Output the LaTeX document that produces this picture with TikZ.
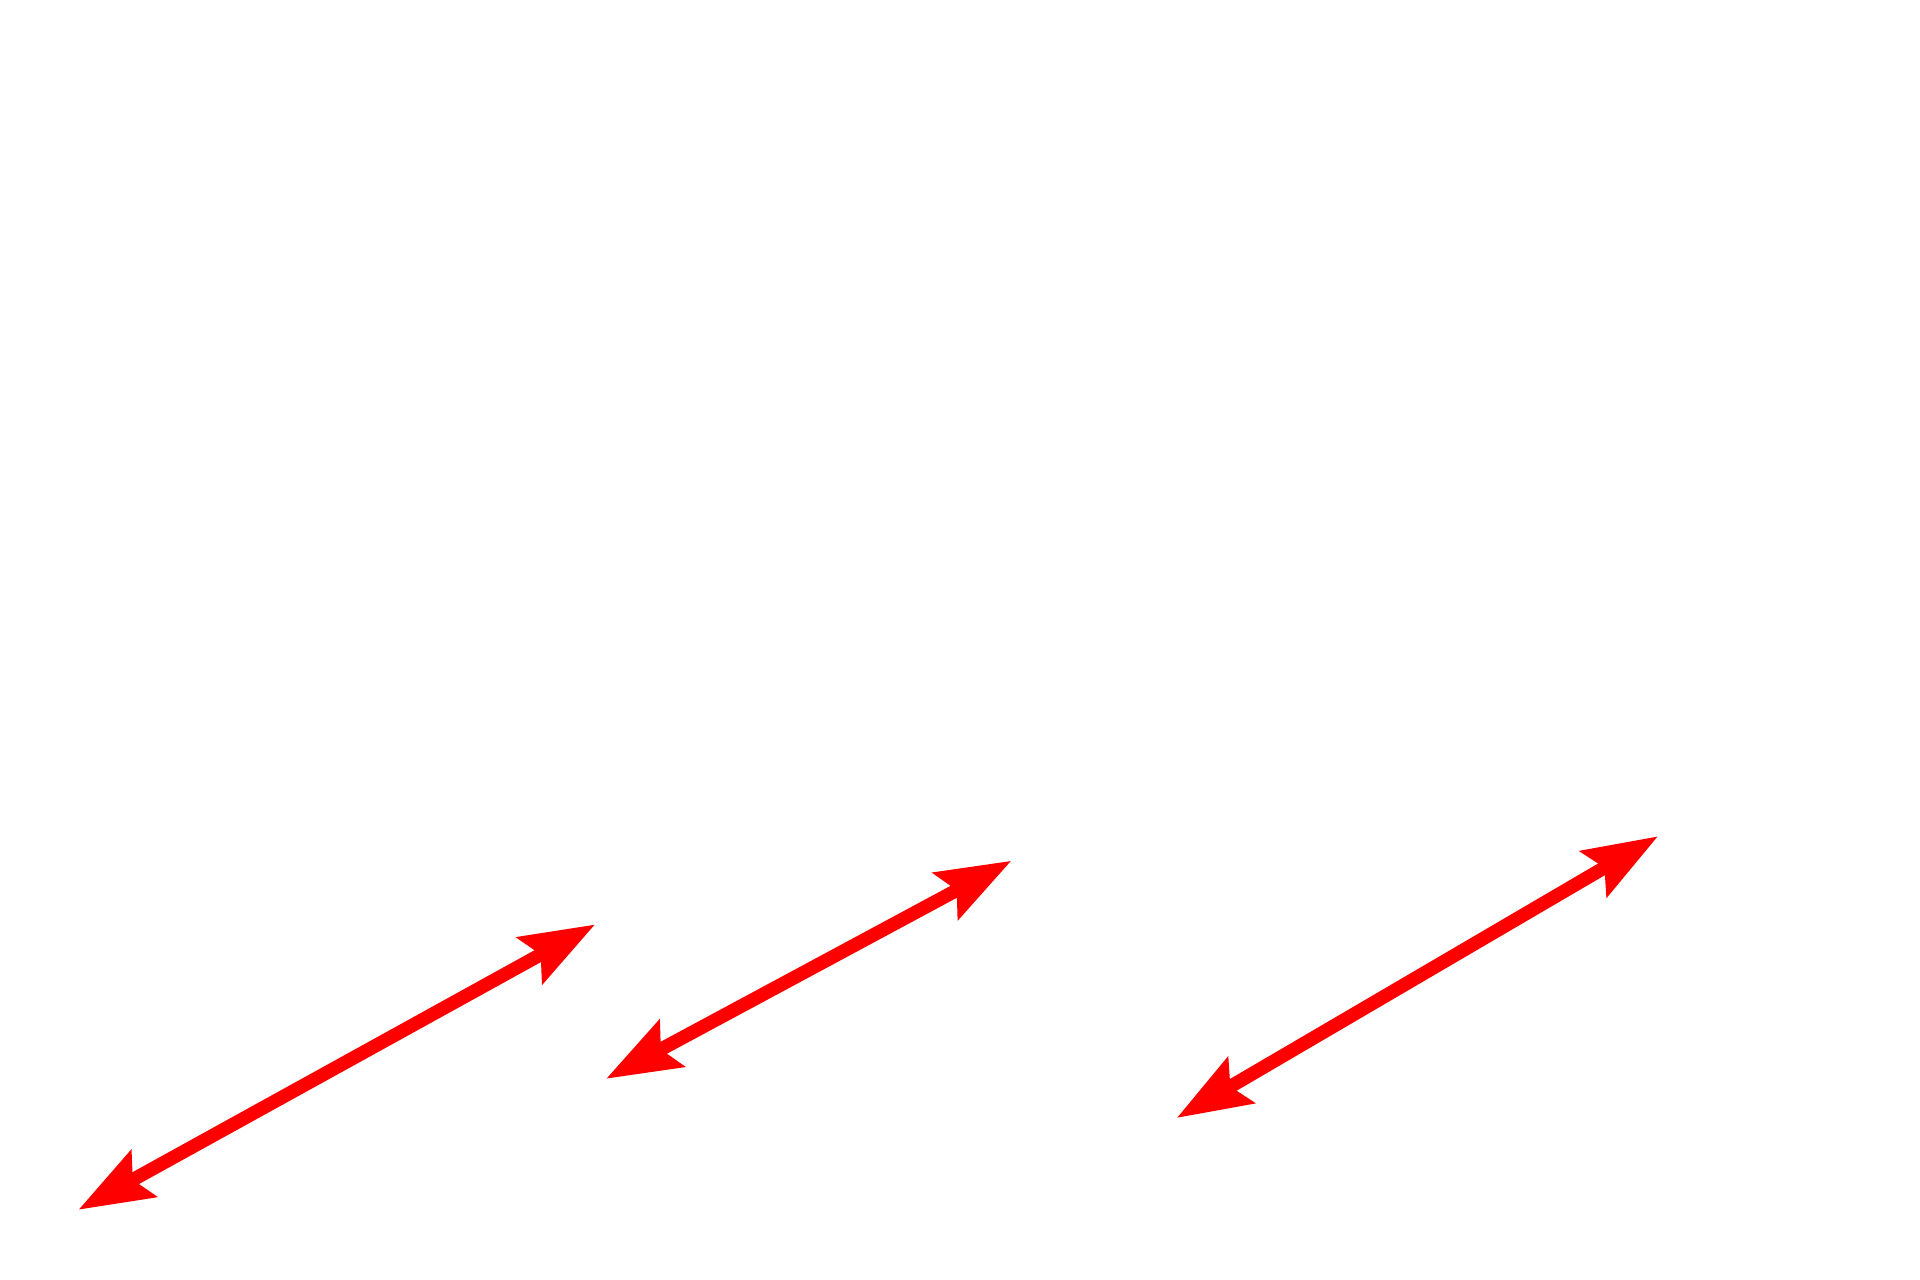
\documentclass[tikz,border=0pt]{standalone}
\usepackage{xcolor}
\definecolor{Signal}{HTML}{FF0000}
\usepackage{tikz}
\usetikzlibrary{arrows.meta}

\begin{document}
\begin{tikzpicture}[span/.style={draw=Signal,line width=1.35mm,{Stealth[length=7.4mm,width=5.2mm,inset=1.2mm]}-{Stealth[length=7.4mm,width=5.2mm,inset=1.2mm]}}]
\useasboundingbox (0,0) rectangle (19.2,12.8);
\coordinate (a1) at (0.784,0.702);
\coordinate (b1) at (5.951,3.555);
\coordinate (a2) at (6.061,2.012);
\coordinate (b2) at (10.114,4.192);
\coordinate (a3) at (11.767,1.620);
\coordinate (b3) at (16.580,4.437);
\draw[span] (a1)--(b1);
\draw[span] (a2)--(b2);
\draw[span] (a3)--(b3);
\end{tikzpicture}
\end{document}
